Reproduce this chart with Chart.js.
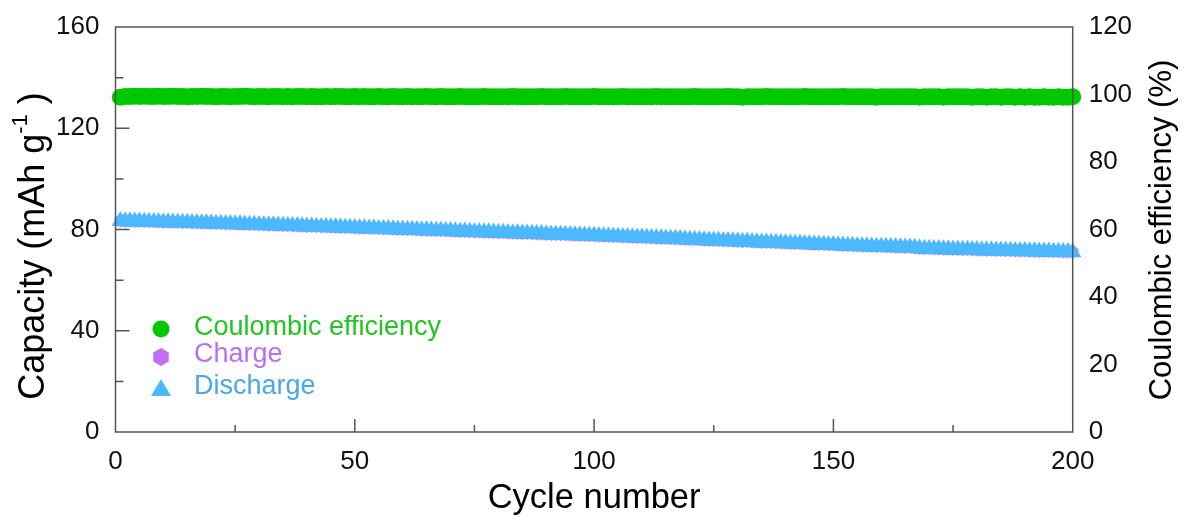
<!DOCTYPE html>
<html>
<head>
<meta charset="utf-8">
<script src="https://cdn.jsdelivr.net/npm/chart.js@4.4.1/dist/chart.umd.min.js"></script>
<style>
  body { margin: 0; background: #fff; }
  #wrap { width: 1185px; height: 517px; }
</style>
</head>
<body>
<div id="wrap"><canvas id="cycleChart"></canvas></div>
<script>
const FONT = "'Liberation Sans', Arial, sans-serif";

// coulombic efficiency (%) per cycle, 1..200
const efficiency = [
  99.2, 99.4, 99.4, 99.5, 99.4, 99.5, 99.4, 99.4, 99.5, 99.4,
  99.4, 99.5, 99.4, 99.4, 99.3, 99.4, 99.4, 99.5, 99.4, 99.4,
  99.3, 99.4, 99.4, 99.3, 99.4, 99.4, 99.5, 99.4, 99.3, 99.4,
  99.4, 99.3, 99.4, 99.4, 99.3, 99.4, 99.3, 99.4, 99.4, 99.3,
  99.4, 99.3, 99.3, 99.4, 99.3, 99.4, 99.4, 99.3, 99.3, 99.4,
  99.3, 99.4, 99.3, 99.3, 99.4, 99.3, 99.3, 99.4, 99.3, 99.3,
  99.4, 99.3, 99.3, 99.3, 99.4, 99.3, 99.3, 99.4, 99.3, 99.3,
  99.3, 99.4, 99.3, 99.3, 99.3, 99.3, 99.4, 99.3, 99.3, 99.3,
  99.3, 99.3, 99.4, 99.3, 99.3, 99.3, 99.3, 99.3, 99.4, 99.3,
  99.3, 99.3, 99.3, 99.4, 99.3, 99.3, 99.3, 99.3, 99.3, 99.4,
  99.3, 99.3, 99.3, 99.3, 99.3, 99.4, 99.3, 99.3, 99.3, 99.3,
  99.3, 99.3, 99.4, 99.3, 99.3, 99.3, 99.3, 99.3, 99.3, 99.3,
  99.4, 99.3, 99.3, 99.3, 99.3, 99.3, 99.3, 99.4, 99.3, 99.3,
  99.2, 99.3, 99.3, 99.3, 99.3, 99.4, 99.3, 99.3, 99.3, 99.3,
  99.3, 99.3, 99.3, 99.4, 99.3, 99.3, 99.3, 99.3, 99.3, 99.3,
  99.3, 99.4, 99.3, 99.3, 99.3, 99.3, 99.3, 99.3, 99.2, 99.3,
  99.3, 99.3, 99.3, 99.3, 99.3, 99.3, 99.3, 99.2, 99.3, 99.3,
  99.3, 99.3, 99.2, 99.3, 99.3, 99.3, 99.3, 99.3, 99.2, 99.3,
  99.3, 99.2, 99.3, 99.3, 99.2, 99.3, 99.3, 99.2, 99.3, 99.2,
  99.3, 99.2, 99.2, 99.3, 99.2, 99.2, 99.3, 99.2, 99.2, 99.3
];

// charge capacity (mAh g-1) per cycle
const charge = [
  83.5, 83.4, 83.4, 83.3, 83.3, 83.2, 83.2, 83.1, 83.1, 83.0,
  83.0, 82.9, 82.9, 82.8, 82.8, 82.7, 82.7, 82.6, 82.6, 82.5,
  82.4, 82.4, 82.3, 82.3, 82.2, 82.2, 82.1, 82.0, 82.0, 81.9,
  81.9, 81.8, 81.8, 81.7, 81.6, 81.6, 81.5, 81.5, 81.4, 81.3,
  81.3, 81.2, 81.1, 81.1, 81.0, 81.0, 80.9, 80.8, 80.8, 80.7,
  80.6, 80.6, 80.5, 80.5, 80.4, 80.3, 80.3, 80.2, 80.1, 80.1,
  80.0, 80.0, 79.9, 79.8, 79.8, 79.7, 79.6, 79.6, 79.5, 79.5,
  79.4, 79.3, 79.3, 79.2, 79.1, 79.1, 79.0, 79.0, 78.9, 78.8,
  78.8, 78.7, 78.6, 78.6, 78.5, 78.5, 78.4, 78.3, 78.3, 78.2,
  78.1, 78.1, 78.0, 78.0, 77.9, 77.8, 77.8, 77.7, 77.6, 77.6,
  77.5, 77.4, 77.4, 77.3, 77.2, 77.1, 77.1, 77.0, 76.9, 76.9,
  76.8, 76.7, 76.6, 76.6, 76.5, 76.4, 76.4, 76.3, 76.2, 76.1,
  76.1, 76.0, 75.9, 75.8, 75.8, 75.7, 75.6, 75.6, 75.5, 75.4,
  75.3, 75.3, 75.2, 75.1, 75.0, 75.0, 74.9, 74.8, 74.8, 74.7,
  74.6, 74.5, 74.5, 74.4, 74.3, 74.2, 74.2, 74.1, 74.0, 74.0,
  73.9, 73.8, 73.7, 73.7, 73.6, 73.5, 73.5, 73.4, 73.3, 73.3,
  73.2, 73.2, 73.1, 73.1, 73.0, 73.0, 72.9, 72.6, 72.5, 72.5,
  72.4, 72.4, 72.3, 72.3, 72.2, 72.2, 72.1, 72.1, 72.0, 72.0,
  71.9, 71.9, 71.9, 71.8, 71.8, 71.7, 71.7, 71.6, 71.6, 71.6,
  71.5, 71.5, 71.4, 71.4, 71.4, 71.3, 71.3, 71.2, 71.2, 71.1
];

// discharge capacity (mAh g-1) per cycle
const discharge = [
  83.4, 83.3, 83.3, 83.2, 83.2, 83.1, 83.1, 83.0, 83.0, 82.9,
  82.9, 82.8, 82.8, 82.7, 82.7, 82.6, 82.6, 82.5, 82.5, 82.4,
  82.3, 82.3, 82.2, 82.2, 82.1, 82.1, 82.0, 81.9, 81.9, 81.8,
  81.8, 81.7, 81.7, 81.6, 81.5, 81.5, 81.4, 81.4, 81.3, 81.2,
  81.2, 81.1, 81.0, 81.0, 80.9, 80.9, 80.8, 80.7, 80.7, 80.6,
  80.5, 80.5, 80.4, 80.4, 80.3, 80.2, 80.2, 80.1, 80.0, 80.0,
  79.9, 79.9, 79.8, 79.7, 79.7, 79.6, 79.5, 79.5, 79.4, 79.4,
  79.3, 79.2, 79.2, 79.1, 79.0, 79.0, 78.9, 78.9, 78.8, 78.7,
  78.7, 78.6, 78.5, 78.5, 78.4, 78.4, 78.3, 78.2, 78.2, 78.1,
  78.0, 78.0, 77.9, 77.9, 77.8, 77.7, 77.7, 77.6, 77.5, 77.5,
  77.4, 77.3, 77.3, 77.2, 77.1, 77.0, 77.0, 76.9, 76.8, 76.8,
  76.7, 76.6, 76.5, 76.5, 76.4, 76.3, 76.3, 76.2, 76.1, 76.0,
  76.0, 75.9, 75.8, 75.7, 75.7, 75.6, 75.5, 75.5, 75.4, 75.3,
  75.2, 75.2, 75.1, 75.0, 74.9, 74.9, 74.8, 74.7, 74.7, 74.6,
  74.5, 74.4, 74.4, 74.3, 74.2, 74.1, 74.1, 74.0, 73.9, 73.9,
  73.8, 73.7, 73.6, 73.6, 73.5, 73.4, 73.4, 73.3, 73.2, 73.2,
  73.1, 73.1, 73.0, 73.0, 72.9, 72.9, 72.8, 72.5, 72.4, 72.4,
  72.3, 72.3, 72.2, 72.2, 72.1, 72.1, 72.0, 72.0, 71.9, 71.9,
  71.8, 71.8, 71.8, 71.7, 71.7, 71.6, 71.6, 71.5, 71.5, 71.5,
  71.4, 71.4, 71.3, 71.3, 71.3, 71.2, 71.2, 71.1, 71.1, 71.0
];

const cycleTicks = [0, 50, 100, 150, 200];
const cycleMinor = [25, 75, 125, 175];
const capTicks = [0, 40, 80, 120, 160];
const capMinor = [20, 60, 100, 140];
const ceTicks = [0, 20, 40, 60, 80, 100, 120];

const GREEN = '#00c800';
const PURPLE = '#bf6ff5';
const BLUE = '#4cb8ff';

function hexagon(r) {
    const c = document.createElement('canvas');
    const s = Math.ceil(r * 2) + 2;
    c.width = s; c.height = s;
    const g = c.getContext('2d');
    g.fillStyle = PURPLE;
    g.beginPath();
    for (let i = 0; i < 6; i++) {
        const a = Math.PI / 3 * i;
        const px = s / 2 + r * Math.sin(a), py = s / 2 - r * Math.cos(a);
        if (i === 0) g.moveTo(px, py); else g.lineTo(px, py);
    }
    g.closePath();
    g.fill();
    return c;
}
const hexPoint = hexagon(6.5);
const hexLegend = hexagon(9);

function toPoints(arr) {
    return arr.map((v, i) => ({ x: i + 1, y: v }));
}

const framePlugin = {
    id: 'framePlugin',
    afterDatasetsDraw(chart) {
        const { ctx, chartArea: a, scales } = chart;
        ctx.save();
        ctx.strokeStyle = '#555';
        ctx.lineWidth = 1.5;
        ctx.strokeRect(a.left, a.top, a.right - a.left, a.bottom - a.top);

        ctx.beginPath();
        capTicks.slice(1, -1).forEach(v => {
            const y = scales.y.getPixelForValue(v);
            ctx.moveTo(a.left, y); ctx.lineTo(a.left + 14, y);
        });
        capMinor.forEach(v => {
            const y = scales.y.getPixelForValue(v);
            ctx.moveTo(a.left, y); ctx.lineTo(a.left + 8, y);
        });
        cycleTicks.slice(1, -1).forEach(v => {
            const x = scales.x.getPixelForValue(v);
            ctx.moveTo(x, a.bottom); ctx.lineTo(x, a.bottom - 13);
        });
        cycleMinor.forEach(v => {
            const x = scales.x.getPixelForValue(v);
            ctx.moveTo(x, a.bottom); ctx.lineTo(x, a.bottom - 7);
        });
        ctx.stroke();

        // left title with superscript
        ctx.fillStyle = '#000';
        ctx.translate(34, 246);
        ctx.rotate(-Math.PI / 2);
        const big = '36px ' + FONT, small = '22px ' + FONT;
        ctx.font = big;
        const p1 = 'Capacity (mAh g', p3 = ' )';
        const w1 = ctx.measureText(p1).width, w3 = ctx.measureText(p3).width;
        ctx.font = small;
        const w2 = ctx.measureText('-1').width;
        let x0 = -(w1 + w2 + w3) / 2;
        ctx.textBaseline = 'middle';
        ctx.textAlign = 'left';
        ctx.font = big;
        ctx.fillText(p1, x0, 0);
        ctx.font = small;
        ctx.fillText('-1', x0 + w1, -13);
        ctx.font = big;
        ctx.fillText(p3, x0 + w1 + w2, 0);
        ctx.restore();

        // right title
        ctx.save();
        ctx.fillStyle = '#000';
        ctx.font = '31px ' + FONT;
        ctx.translate(1162, 230);
        ctx.rotate(-Math.PI / 2);
        ctx.textAlign = 'center';
        ctx.textBaseline = 'middle';
        ctx.fillText('Coulombic efficiency (%)', 0, 0);
        ctx.restore();

        // legend
        ctx.save();
        ctx.font = '27px ' + FONT;
        ctx.textBaseline = 'middle';
        ctx.textAlign = 'left';
        ctx.fillStyle = GREEN;
        ctx.beginPath(); ctx.arc(161, 329, 8.5, 0, Math.PI * 2); ctx.fill();
        ctx.fillStyle = '#22c322';
        ctx.fillText('Coulombic efficiency', 194, 328);
        ctx.drawImage(hexLegend, 161 - hexLegend.width / 2, 357 - hexLegend.height / 2);
        ctx.fillStyle = '#b870f0';
        ctx.fillText('Charge', 194, 355);
        ctx.fillStyle = BLUE;
        ctx.beginPath();
        ctx.moveTo(161, 379); ctx.lineTo(171, 396); ctx.lineTo(151, 396); ctx.closePath(); ctx.fill();
        ctx.fillStyle = '#4aa8e4';
        ctx.fillText('Discharge', 194, 387);
        ctx.restore();
    }
};

function CycleChart() {
    const ctx = document.getElementById('cycleChart').getContext('2d');

    // lower order is drawn on top: discharge over charge
    const data = {
        datasets: [
            {
                label: 'Coulombic efficiency',
                data: toPoints(efficiency),
                yAxisID: 'y2',
                order: 2,
                backgroundColor: GREEN,
                pointStyle: 'circle',
                pointRadius: 8.5,
                pointBorderWidth: 0,
                showLine: false,
                clip: false
            },
            {
                label: 'Charge',
                data: toPoints(charge),
                yAxisID: 'y',
                order: 1,
                backgroundColor: PURPLE,
                pointStyle: hexPoint,
                showLine: false,
                clip: false
            },
            {
                label: 'Discharge',
                data: toPoints(discharge),
                yAxisID: 'y',
                order: 0,
                backgroundColor: BLUE,
                pointStyle: 'triangle',
                pointRadius: 10,
                pointBorderWidth: 0,
                showLine: false,
                clip: false
            }
        ]
    };

    const tickFont = { family: FONT, size: 26 };

    const options = {
        responsive: true,
        maintainAspectRatio: false,
        animation: false,
        layout: { padding: { top: 27 } },
        plugins: {
            legend: { display: false },
            tooltip: { enabled: false }
        },
        scales: {
            x: {
                type: 'linear',
                min: 0,
                max: 200,
                afterBuildTicks: s => { s.ticks = cycleTicks.map(v => ({ value: v })); },
                ticks: { font: tickFont, color: '#111', padding: 6, maxRotation: 0 },
                grid: { display: false },
                border: { display: false },
                title: {
                    display: true,
                    text: 'Cycle number',
                    font: { family: FONT, size: 34.5, lineHeight: 1.1 },
                    color: '#000',
                    padding: { top: 0, bottom: 0 }
                },
                afterFit: s => { s.height = 85; }
            },
            y: {
                position: 'left',
                min: 0,
                max: 160,
                afterBuildTicks: s => { s.ticks = capTicks.map(v => ({ value: v })); },
                ticks: { font: tickFont, color: '#111', padding: 8 },
                grid: { display: false },
                border: { display: false },
                afterFit: s => { s.width = 115.5; }
            },
            y2: {
                position: 'right',
                min: 0,
                max: 120,
                afterBuildTicks: s => { s.ticks = ceTicks.map(v => ({ value: v })); },
                ticks: { font: tickFont, color: '#111', padding: 8 },
                grid: { display: false },
                border: { display: false },
                afterFit: s => { s.width = 112.3; }
            }
        }
    };

    new Chart(ctx, { type: 'scatter', data: data, options: options, plugins: [framePlugin] });
}

CycleChart();
</script>
</body>
</html>
